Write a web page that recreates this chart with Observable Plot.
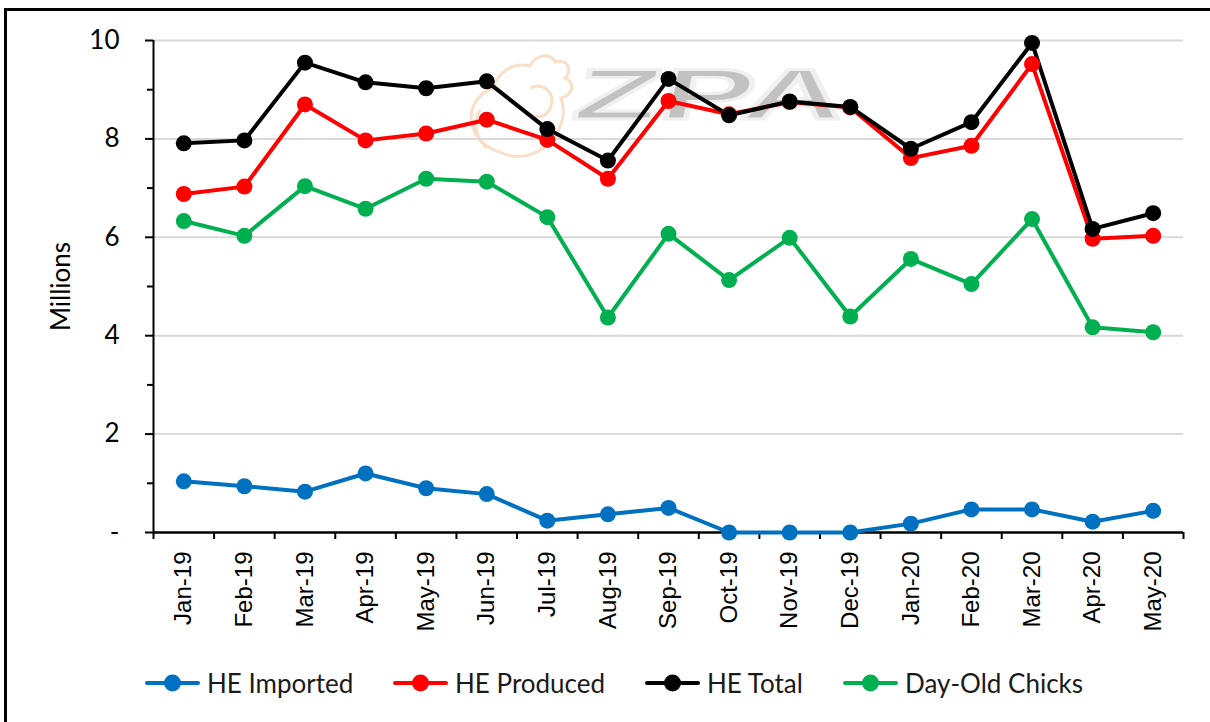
<!DOCTYPE html>
<html>
<head>
<meta charset="utf-8">
<script src="https://cdn.jsdelivr.net/npm/d3@7"></script>
<script src="https://cdn.jsdelivr.net/npm/@observablehq/plot@0.6"></script>
<style>
  html, body { margin: 0; padding: 0; background: #fff; }
  #page { position: relative; width: 1210px; height: 722px; overflow: hidden; background: #fff; font-family: Lato, "Open Sans", sans-serif; }
  #frame { position: absolute; left: 4px; top: 8px; width: 1400px; height: 900px; border-left: 3px solid #000; border-top: 3px solid #000; box-sizing: border-box; }
  #wm { position: absolute; left: 0; top: 0; width: 1210px; height: 650px; z-index: 0; }
  #chart { position: absolute; left: 0; top: 0; z-index: 1; }
  #chart svg { background: transparent; }
  #legend { position: absolute; left: 0; top: 650px; width: 1210px; height: 72px; z-index: 2; }
  .item { position: absolute; top: 17px; display: flex; align-items: center; font-family: Lato, sans-serif; font-size: 26px; color: #1a1a1a; }
  .item svg { margin-right: 7px; }
</style>
</head>
<body>
<div id="page">
  <div id="frame"></div>
  <div id="wm">
    <svg width="1210" height="650">
      <g fill="none" stroke="#F8D9BF" stroke-width="3" opacity="0.85">
        <path d="M500,152 C465,142 461,100 493,88 C498,72 513,62 530,66 C535,55 550,52 555,62 C567,58 573,70 565,78 C577,84 571,96 561,98 C567,115 561,135 543,148 C530,158 513,159 500,152 Z"/>
        <path d="M530,88 C543,82 555,92 551,106 C547,118 535,120 528,112"/>
        <path d="M480,110 C473,122 475,138 487,148"/>
      </g>
      <text x="730" y="119" text-anchor="middle" font-family="Liberation Sans, Arial, sans-serif" font-weight="bold" font-size="72" fill="#C2C2C2" stroke="#F0F0F0" stroke-width="3" transform="translate(730,0) scale(1.95,1) translate(-730,0) skewX(-6)">ZPA</text>
    </svg>
  </div>
  <div id="chart"></div>
  <div id="legend"></div>
</div>
<script>
const months = ["Jan-19","Feb-19","Mar-19","Apr-19","May-19","Jun-19","Jul-19","Aug-19","Sep-19","Oct-19","Nov-19","Dec-19","Jan-20","Feb-20","Mar-20","Apr-20","May-20"];
const seriesNames = ["HE Imported", "HE Produced", "HE Total", "Day-Old Chicks"];
const seriesColors = ["#0070C0", "#FF0000", "#000000", "#00B050"];
const heImported = [1.04, 0.94, 0.83, 1.20, 0.90, 0.78, 0.24, 0.37, 0.50, 0.00, 0.00, 0.00, 0.18, 0.47, 0.47, 0.22, 0.44];
const heProduced = [6.88, 7.03, 8.70, 7.97, 8.11, 8.39, 7.98, 7.19, 8.77, 8.50, 8.75, 8.64, 7.61, 7.86, 9.52, 5.97, 6.03];
const heTotal    = [7.91, 7.97, 9.55, 9.15, 9.03, 9.17, 8.20, 7.56, 9.22, 8.48, 8.76, 8.65, 7.80, 8.34, 9.95, 6.17, 6.49];
const dayOldChicks = [6.33, 6.03, 7.04, 6.58, 7.19, 7.13, 6.41, 4.37, 6.07, 5.13, 5.99, 4.39, 5.56, 5.05, 6.37, 4.17, 4.07];
const yMajorTicks = [0, 2, 4, 6, 8, 10];
const yMinorTicks = [1, 3, 5, 7, 9];
const yLabel = "Millions";

const seriesValues = [heImported, heProduced, heTotal, dayOldChicks];
const data = seriesNames.flatMap((name, s) =>
  seriesValues[s].map((v, i) => ({i, month: months[i], value: v, series: name})));

const boundaries = d3.range(months.length + 1).map(k => k - 0.5);

const chart = Plot.plot({
  width: 1210,
  height: 650,
  marginLeft: 153,
  marginRight: 27,
  marginTop: 40,
  marginBottom: 118,
  style: {fontFamily: "Lato, sans-serif", background: "transparent", color: "#000", overflow: "visible"},
  x: {type: "linear", domain: [-0.5, months.length - 0.5]},
  y: {domain: [0, 10]},
  color: {domain: seriesNames, range: seriesColors},
  marks: [
    Plot.gridY(yMajorTicks.filter(d => d > 0), {stroke: "#D9D9D9", strokeOpacity: 1, strokeWidth: 2}),
    Plot.axisY(yMajorTicks, {tickSize: 8, tickPadding: 26, strokeWidth: 2, fontSize: 26, label: null,
      tickFormat: d => d === 0 ? "-" : String(d)}),
    Plot.axisY(yMinorTicks, {tickSize: 6, strokeWidth: 2, tickFormat: () => "", label: null}),
    Plot.axisX(boundaries, {tickSize: 7, strokeWidth: 2, tickFormat: () => "", label: null}),
    Plot.axisX(d3.range(months.length), {tickSize: 0, tickPadding: 19, tickRotate: -90, fontSize: 24,
      fontFamily: "Liberation Sans, Arial, sans-serif", tickFormat: i => months[i], label: null}),
    Plot.ruleX([-0.5], {stroke: "#000", strokeWidth: 2}),
    Plot.ruleY([0], {stroke: "#000", strokeWidth: 2.5}),
    Plot.line(data, {x: "i", y: "value", z: "series", stroke: "series", strokeWidth: 4, strokeLinejoin: "round"}),
    Plot.dot(data, {x: "i", y: "value", fill: "series", r: 8, stroke: null}),
    Plot.text([yLabel], {text: d => d, frameAnchor: "left", textAnchor: "middle", dx: -92, rotate: -90, fontSize: 26, fill: "#000"})
  ]
});
document.getElementById("chart").appendChild(chart);

// Legend
const legend = document.getElementById("legend");
const lefts = [145, 393, 645, 843];
seriesNames.forEach((name, k) => {
  const item = document.createElement("div");
  item.className = "item";
  item.style.left = lefts[k] + "px";
  item.innerHTML = `<svg width="55" height="20"><line x1="2" x2="53" y1="10" y2="10" stroke="${seriesColors[k]}" stroke-width="4" stroke-linecap="round"/><circle cx="27.5" cy="10" r="8.5" fill="${seriesColors[k]}"/></svg><span>${name}</span>`;
  legend.appendChild(item);
});
</script>
</body>
</html>
